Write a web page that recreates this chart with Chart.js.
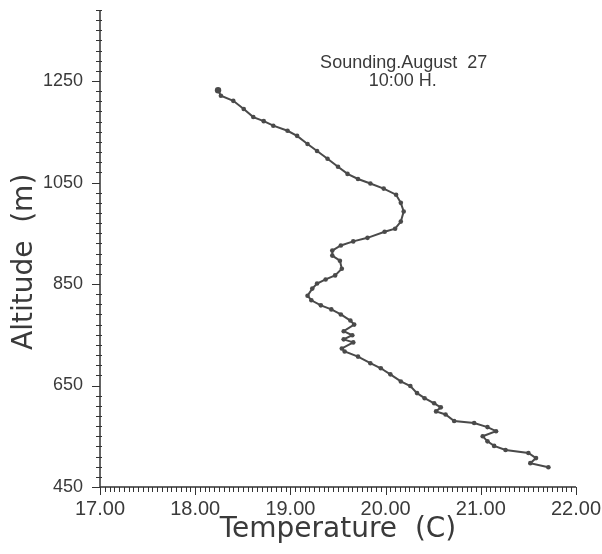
<!DOCTYPE html>
<html>
<head>
<meta charset="utf-8">
<script src="https://cdn.jsdelivr.net/npm/chart.js@4/dist/chart.umd.min.js"></script>
<style>
  html, body { margin: 0; padding: 0; background: #fff; }
  #wrap { width: 602px; height: 554px; }
</style>
</head>
<body>
<div id="wrap"><canvas id="sounding"></canvas></div>
<script>
// ----- Data -----
const temps = [
  18.24, 18.27, 18.40, 18.51, 18.61, 18.72, 18.82, 18.97, 19.07, 19.18,
  19.28, 19.39, 19.50, 19.60, 19.71, 19.84, 19.98, 20.11, 20.16, 20.19,
  20.16, 20.10, 19.99, 19.81, 19.66, 19.53, 19.44, 19.44, 19.52, 19.54,
  19.47, 19.37, 19.28, 19.23, 19.18, 19.22, 19.32, 19.43, 19.53, 19.63,
  19.67, 19.56, 19.65, 19.56, 19.66, 19.54, 19.57, 19.71, 19.84, 19.95,
  20.05, 20.16, 20.26, 20.33, 20.41, 20.51, 20.58, 20.53, 20.63, 20.72,
  20.93, 21.07, 21.16, 21.02, 21.07, 21.14, 21.26, 21.50, 21.58, 21.52,
  21.71
];
const altitudes = [
  1232, 1221, 1211, 1195, 1179, 1171, 1162, 1152, 1142, 1126,
  1112, 1097, 1081, 1067, 1057, 1048, 1038, 1026, 1010, 993,
  973, 959, 953, 941, 934, 926, 916, 906, 896, 880,
  867, 859, 851, 841, 827, 818, 808, 800, 790, 778,
  770, 757, 749, 741, 735, 723, 717, 707, 694, 684,
  672, 658, 649, 635, 625, 615, 607, 599, 593, 580,
  576, 568, 560, 550, 540, 531, 523, 517, 507, 497,
  489
];
const yTickValues = [450, 650, 850, 1050, 1250];
const noteLines = ["Sounding.August  27", "10:00 H."];

// ----- Scale ranges -----
const X_MIN = 17, X_MAX = 22, X_MINOR = 0.05;
const Y_MIN = 450, Y_MAX = 1390, Y_MINOR = 20;

const INK = "#4a4a4a";
const TEXT = "#3a3a3a";

// hand-drawn axes with fine minor ticks, like the plotter output
const axesPlugin = {
  id: "plotterAxes",
  afterDraw(chart) {
    const { ctx, scales: { x, y } } = chart;
    const x0 = x.getPixelForValue(X_MIN), x1 = x.getPixelForValue(X_MAX);
    const y0 = y.getPixelForValue(Y_MIN), y1 = y.getPixelForValue(Y_MAX);
    ctx.save();
    ctx.strokeStyle = "#333";
    ctx.lineWidth = 1.5;
    ctx.beginPath();
    ctx.moveTo(x0, y1); ctx.lineTo(x0, y0); ctx.lineTo(x1, y0);
    ctx.stroke();

    ctx.lineWidth = 1;
    ctx.beginPath();
    // x ticks
    const nx = Math.round((X_MAX - X_MIN) / X_MINOR);
    for (let i = 0; i <= nx; i++) {
      const v = X_MIN + i * X_MINOR;
      const px = Math.round(x.getPixelForValue(v)) + 0.5;
      const major = i % 20 === 0;
      ctx.moveTo(px, y0);
      ctx.lineTo(px, y0 + (major ? 8 : 5));
    }
    // y ticks
    for (let v = Y_MIN; v <= Y_MAX; v += Y_MINOR) {
      const py = Math.round(y.getPixelForValue(v)) + 0.5;
      const major = yTickValues.includes(v);
      ctx.moveTo(x0 - (major ? 8 : 4), py);
      ctx.lineTo(x0 + (major ? 0 : 2), py);
    }
    ctx.stroke();

    // annotation
    ctx.fillStyle = TEXT;
    ctx.font = "18px 'Liberation Sans', Arial, sans-serif";
    ctx.textAlign = "center";
    ctx.textBaseline = "middle";
    const nx0 = x.getPixelForValue(20.19);
    ctx.fillText(noteLines[0], nx0, y.getPixelForValue(1285));
    ctx.fillText(noteLines[1], nx0 - 1, y.getPixelForValue(1250));
    ctx.restore();
  }
};

const ctx = document.getElementById("sounding").getContext("2d");
const chart = new Chart(ctx, {
  type: "scatter",
  data: {
    datasets: [{
      label: "Sounding",
      data: temps.map((t, i) => ({ x: t, y: altitudes[i] })),
      showLine: true,
      borderColor: INK,
      backgroundColor: INK,
      borderWidth: 2,
      pointRadius: c => (c.dataIndex === 0 ? 3.2 : 2.3),
      pointBorderWidth: 0,
      tension: 0
    }]
  },
  options: {
    responsive: true,
    maintainAspectRatio: false,
    animation: false,
    events: [],
    layout: { padding: { top: 10, right: 26, left: 0, bottom: 0 } },
    plugins: {
      legend: { display: false },
      tooltip: { enabled: false }
    },
    scales: {
      x: {
        type: "linear",
        min: X_MIN,
        max: X_MAX,
        grid: { display: false, drawTicks: false },
        border: { display: false },
        ticks: {
          stepSize: 1,
          padding: 10,
          maxRotation: 0,
          color: TEXT,
          font: { family: "'Liberation Sans', Arial, sans-serif", size: 20 },
          callback: v => v.toFixed(2)
        },
        title: {
          display: true,
          text: "Temperature  (C)",
          color: TEXT,
          font: { family: "'DejaVu Sans', sans-serif", size: 28 },
          padding: { top: 0, bottom: 7 }
        },
        afterFit: s => { s.height = 67; s.paddingLeft = 0; s.paddingRight = 0; }
      },
      y: {
        type: "linear",
        min: Y_MIN,
        max: Y_MAX,
        grid: { display: false, drawTicks: false },
        border: { display: false },
        afterBuildTicks: s => { s.ticks = yTickValues.map(v => ({ value: v })); },
        ticks: {
          padding: 17,
          color: TEXT,
          font: { family: "'Liberation Sans', Arial, sans-serif", size: 18 },
          callback: v => String(v)
        },
        title: {
          display: true,
          text: "Altitude  (m)   ",
          color: TEXT,
          font: { family: "'DejaVu Sans', sans-serif", size: 28 },
          padding: { top: 8, bottom: 0 }
        },
        afterFit: s => { s.width = 100; s.paddingTop = 0; s.paddingBottom = 0; }
      }
    }
  },
  plugins: [axesPlugin]
});
</script>
</body>
</html>
